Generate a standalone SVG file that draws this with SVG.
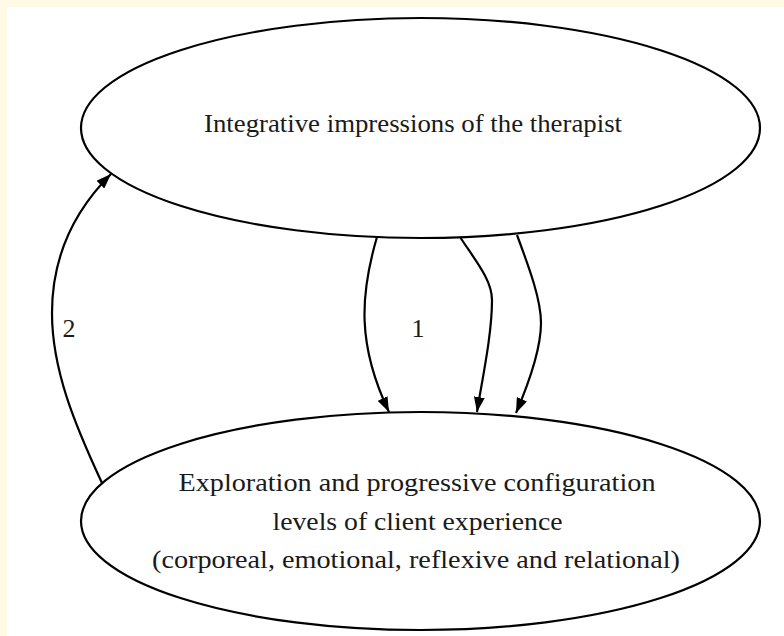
<svg xmlns="http://www.w3.org/2000/svg" width="784" height="636" viewBox="0 0 784 636">
<defs>
<style>
.node ellipse{fill:none;stroke:#000;stroke-width:2.2}
text{font-family:"Liberation Serif","DejaVu Serif",serif;font-size:26px;fill:#1a1a1a}
.edge{fill:none;stroke:#000;stroke-width:2.2;marker-end:url(#arr)}
</style>
<marker id="arr" viewBox="0 0 15 11" refX="15" refY="5.5" markerWidth="15" markerHeight="11" markerUnits="userSpaceOnUse" orient="auto">
<path d="M0,0 L15,5.5 L0,11 Z" fill="#000"/>
</marker>
</defs>
<rect x="0" y="0" width="784" height="636" fill="#fffae6"/>
<rect x="7" y="7" width="777" height="629" fill="#fff"/>
<g id="connectors">
<path class="edge" d="M377,237 C360,295 357,345 389,412"/>
<path class="edge" d="M460,237 C475,260 492,280 492,300 C492,335 482,380 477,412"/>
<path class="edge" d="M517,235 C530,270 541,300 541,323 C541,350 528,385 516,413"/>
<path class="edge" d="M102,483 C75,425 52,370 52,313 C52,255 75,210 111,174"/>
<text x="418" y="337" text-anchor="middle" font-size="27">1</text>
<text x="69" y="337" text-anchor="middle" font-size="27">2</text>
</g>
<g id="node-therapist" class="node">
<ellipse cx="420.5" cy="128" rx="339.5" ry="110"/>
<text x="413" y="132" text-anchor="middle" textLength="418" lengthAdjust="spacingAndGlyphs">Integrative impressions of the therapist</text>
</g>
<g id="node-client" class="node">
<ellipse cx="420.5" cy="521" rx="339.5" ry="109"/>
<text x="417" y="491" text-anchor="middle" textLength="477" lengthAdjust="spacingAndGlyphs">Exploration and progressive configuration</text>
<text x="417.5" y="530" text-anchor="middle" textLength="290" lengthAdjust="spacingAndGlyphs">levels of client experience</text>
<text x="416" y="568" text-anchor="middle" textLength="528" lengthAdjust="spacingAndGlyphs">(corporeal, emotional, reflexive and relational)</text>
</g>
</svg>
